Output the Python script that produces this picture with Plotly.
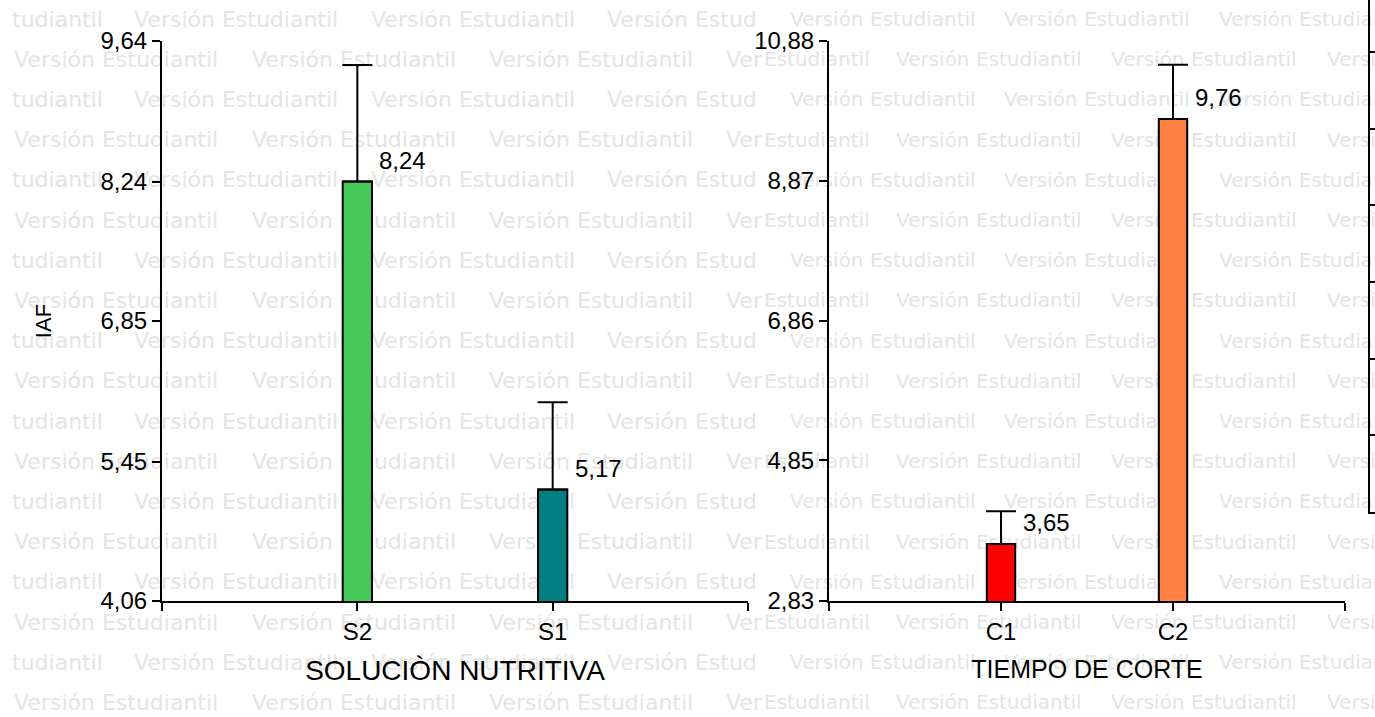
import plotly.graph_objects as go

# ---------------- data ----------------
sol_categories = ["S2", "S1"]
sol_values = [8.24, 5.17]
sol_errors = [1.16, 0.87]
sol_colors = ["#46C85A", "#008080"]
sol_ticks = [4.06, 5.45, 6.85, 8.24, 9.64]

corte_categories = ["C1", "C2"]
corte_values = [3.65, 9.76]
corte_errors = [0.47, 0.78]
corte_colors = ["#FF0000", "#FF8040"]
corte_ticks = [2.83, 4.85, 6.86, 8.87, 10.88]

y_title = "IAF"
sol_title = "SOLUCIÒN NUTRITIVA"
corte_title = "TIEMPO DE CORTE"

WM = "Versión Estudiantil"
# watermark rows (left image / right image), alternating patterns
wm_left_A = [("tudiantil", 15), (WM, 137), (WM, 374), ("Versión Estud", 610)]
wm_left_B = [(WM, 17), (WM, 255), (WM, 492), ("Ver", 729)]
wm_right_A = [(WM, 793), (WM, 1007), (WM, 1222)]
wm_right_B = [("Estudiantil", 767), (WM, 899), (WM, 1114), (WM, 1330)]

W, H = 1375, 717
FONT = "Liberation Sans, Arial, sans-serif"


def fmt(v):
    return f"{v:.2f}".replace(".", ",")


fig = go.Figure()

# ---------------- watermark (background subplot) ----------------
for pats, size in (((wm_left_A, wm_left_B), 22), ((wm_right_A, wm_right_B), 20)):
    xs, ys, ts = [], [], []
    for r in range(18):
        y = 21 + r * 40.2
        for t, x in pats[r % 2]:
            xs.append(x - 3)
            ys.append(y)
            ts.append(t)
    fig.add_trace(go.Scatter(
        x=xs, y=ys, text=ts, mode="text", textposition="middle right",
        textfont=dict(family="DejaVu Sans", size=size, color="#e4e4e4"),
        hoverinfo="skip", showlegend=False, xaxis="x", yaxis="y", cliponaxis=False))

# ---------------- bars ----------------
def add_panel(cats, vals, errs, colors, xa, ya, width):
    pos = [i + 1 for i in range(len(cats))]
    fig.add_trace(go.Bar(
        x=pos, y=vals, width=width, marker=dict(color=colors, line=dict(color="black", width=2)),
        error_y=dict(type="data", array=errs, arrayminus=[0] * len(errs), symmetric=False,
                     color="black", thickness=2, width=15),
        xaxis=xa, yaxis=ya, showlegend=False, hoverinfo="skip"))
    for p, v in zip(pos, vals):
        fig.add_annotation(x=p, y=v, xref=xa, yref=ya, text=fmt(v), showarrow=False,
                           xanchor="left", yanchor="middle", xshift=20, yshift=21,
                           font=dict(family=FONT, size=24, color="black"))


add_panel(sol_categories, sol_values, sol_errors, sol_colors, "x2", "y2", 0.15)
add_panel(corte_categories, corte_values, corte_errors, corte_colors, "x3", "y3", 0.165)

# empty trace so the partially visible neighbouring axis is drawn
fig.add_trace(go.Scatter(x=[None], y=[None], xaxis="x4", yaxis="y4", mode="markers",
                         showlegend=False, hoverinfo="skip"))

ydom = [(H - 601) / H, (H - 41) / H]
common_ax = dict(showline=True, linewidth=2, linecolor="black", ticks="outside", ticklen=8,
                 tickwidth=2, tickcolor="black", showgrid=False, zeroline=False, automargin=False,
                 tickfont=dict(family=FONT, size=24, color="black"))

fig.update_layout(
    width=W, height=H, autosize=False,
    margin=dict(l=0, r=0, t=0, b=0, pad=0, autoexpand=False),
    paper_bgcolor="white", plot_bgcolor="rgba(0,0,0,0)",
    separators=",.",
    xaxis=dict(domain=[0, 1], range=[0, W], visible=False, fixedrange=True, automargin=False),
    yaxis=dict(domain=[0, 1], range=[H, 0], visible=False, fixedrange=True, automargin=False),
    xaxis2=dict(domain=[162 / W, 748 / W], anchor="y2", range=[0, len(sol_categories) + 1],
                tickvals=list(range(len(sol_categories) + 2)),
                ticktext=[""] + sol_categories + [""],
                title=dict(text=sol_title, standoff=17, font=dict(family=FONT, size=28, color="black")),
                **common_ax),
    yaxis2=dict(domain=ydom, anchor="x2", range=[sol_ticks[0], sol_ticks[-1]],
                tickvals=sol_ticks, tickformat=".2f",
                title=dict(text=y_title, standoff=43, font=dict(family=FONT, size=22, color="black")),
                **common_ax),
    xaxis3=dict(domain=[829 / W, 1345 / W], anchor="y3", range=[0, len(corte_categories) + 1],
                tickvals=list(range(len(corte_categories) + 2)),
                ticktext=[""] + corte_categories + [""],
                title=dict(text=corte_title, standoff=17, font=dict(family=FONT, size=25, color="black")),
                **common_ax),
    yaxis3=dict(domain=ydom, anchor="x3", range=[corte_ticks[0], corte_ticks[-1]],
                tickvals=corte_ticks, tickformat=".2f", **common_ax),
    # partially visible neighbouring chart at the right edge
    xaxis4=dict(domain=[1370 / W, 1.0], anchor="y4", range=[0, 1], showline=True, linewidth=2,
                linecolor="black", showticklabels=False, ticks="", showgrid=False, zeroline=False,
                automargin=False, fixedrange=True),
    yaxis4=dict(domain=[(H - 512) / H, 1.0], anchor="x4", range=[0, 6.68], showline=True, linewidth=2,
                linecolor="black", ticks="inside", ticklen=6, tickwidth=2, tickcolor="black",
                tickvals=[0, 1, 2, 3, 4, 5, 6], showticklabels=False, showgrid=False, zeroline=False,
                automargin=False, fixedrange=True),
)

fig.write_html("out.html", config={"displayModeBar": False},
               post_script="document.body.style.margin='0px';")
